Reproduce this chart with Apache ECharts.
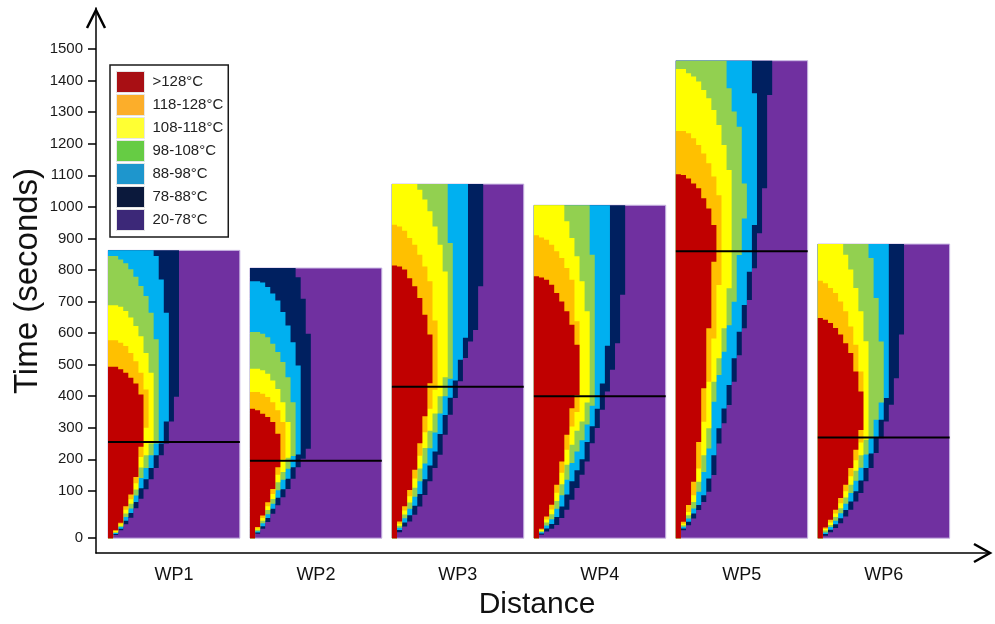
<!DOCTYPE html>
<html>
<head>
<meta charset="utf-8">
<script src="https://cdn.jsdelivr.net/npm/echarts@6/dist/echarts.min.js"></script>
<style>
  html, body { margin: 0; padding: 0; background: #ffffff; }
  #chart { width: 995px; height: 624px; }
</style>
</head>
<body>
<div id="chart"></div>
<script>
// Working-piece temperature maps: time (s) vs distance columns.
const panels = ['WP1', 'WP2', 'WP3', 'WP4', 'WP5', 'WP6'];
const panelEnd = [862, 806, 1072, 1005, 1463, 882];      // last recorded time per piece
const markTime = [255, 195, 430, 400, 859, 269];         // horizontal reference line per piece
const START = -50;                                       // first time row (axis shows it as 0)
const yTicks = [100, 200, 300, 400, 500, 600, 700, 800, 900, 1000, 1100, 1200, 1300, 1400, 1500];

// Temperature bands, coolest heated band first
const bandNames = ['78-88°C', '88-98°C', '98-108°C', '108-118°C', '118-128°C', '>128°C'];
const coldName = '20-78°C';

// For every band: time each distance column enters the band (heat) and leaves it (cool).
// null in a cool row = still in the band at the end of the record.
const wp1Heat = [
  [-50, -40, -25, -6, 15, 45, 75, 105, 137, 172, 213, 250, 320, 398],
  [-50, -37, -20, 5, 30, 65, 108, 137, 172, 213, 250, 320],
  [-50, -34, -15, 17, 44, 85, 141, 172, 213, 250],
  [-50, -31, -11, 28, 59, 104, 174, 213, 250],
  [-50, -28, -6, 40, 73, 124, 207, 300],
  [-50, -25, -1, 51, 88, 144, 240]
];
const wp1Cool = [
  [null, null, null, null, null, null, null, null, null, null, null, null, null, null],
  [null, null, null, null, null, null, null, null, null, 844, 770, 664],
  [844, 844, 833, 821, 802, 778, 749, 717, 664, 580],
  [688, 688, 683, 670, 649, 622, 590, 537, 474],
  [577, 577, 569, 559, 537, 511, 474, 421],
  [493, 493, 485, 474, 458, 440, 405]
];

const wp2Heat = [
  [-50, -36, -20, 1, 27, 54, 80, 106, 138, 175, 202, 233],
  [-50, -32, -12, 14, 43, 78, 105, 138, 175, 215],
  [-50, -28, -3, 26, 59, 102, 135, 170, 210],
  [-50, -23, 5, 39, 74, 127, 160, 205],
  [-50, -19, 14, 51, 90, 151, 200],
  [-50, -15, 22, 64, 106, 175]
];
const wp2Cool = [
  [null, null, null, null, null, null, null, null, null, 777, 709, 598],
  [764, 764, 760, 746, 725, 703, 667, 624, 571, 497],
  [603, 603, 598, 587, 566, 540, 508, 460, 381],
  [487, 487, 482, 471, 450, 423, 381, 318],
  [413, 413, 408, 397, 381, 355, 318],
  [360, 355, 344, 334, 318, 281]
];

const wp3Heat = [
  [-50, -31, -13, 3, 24, 50, 87, 130, 172, 214, 278, 341, 394, 447, 521, 573, 610, 748],
  [-50, -24, 0, 23, 53, 90, 137, 180, 225, 280, 340, 395, 450, 515, 585],
  [-50, -17, 13, 43, 81, 130, 187, 235, 285, 345, 400, 455],
  [-50, -11, 25, 63, 110, 171, 236, 290, 345, 400, 460],
  [-50, -4, 38, 83, 139, 211, 286, 360, 420],
  [-50, 3, 51, 103, 167, 251, 336, 441]
];
const wp3Cool = [
  [null, null, null, null, null, null, null, null, null, null, null, null, null, null, null, null, null, null],
  [null, null, null, null, null, null, null, null, null, null, null, null, null, null, null],
  [null, null, null, null, null, null, null, null, null, null, null, 885],
  [null, null, null, null, null, 1054, 1023, 986, 938, 880, 795],
  [943, 938, 924, 901, 880, 848, 811, 764, 640],
  [814, 811, 801, 774, 748, 711, 658, 595]
];

const wp4Heat = [
  [-50, -39, -29, -20, -8, 14, 40, 72, 109, 151, 193, 251, 299, 357, 415, 484, 568, 721],
  [-50, -35, -19, -5, 17, 50, 88, 130, 165, 200, 255, 305, 360, 440, 560],
  [-50, -31, -10, 10, 43, 86, 135, 188, 225, 260, 310, 370],
  [-50, -28, 0, 26, 68, 121, 183, 246, 290, 320, 380],
  [-50, -24, 9, 41, 94, 157, 230, 304, 350],
  [-50, -20, 19, 56, 119, 193, 278, 362, 404]
];
const wp4Cool = [
  [null, null, null, null, null, null, null, null, null, null, null, null, null, null, null, null, null, null],
  [null, null, null, null, null, null, null, null, null, null, null, null, null, null, null],
  [null, null, null, null, null, null, null, null, null, null, null, 848],
  [null, null, null, null, null, null, 954, 901, 843, 764, 669],
  [910, 903, 896, 880, 859, 838, 806, 769, 637],
  [780, 776, 769, 753, 727, 700, 669, 626, 563]
];

const wp5Heat = [
  [-50, -25, -9, 12, 39, 65, 97, 150, 250, 314, 372, 446, 530, 615, 705, 805, 916, 1059, 1354],
  [-50, -19, 2, 28, 55, 86, 139, 213, 298, 361, 435, 520, 604, 689, 794, 942],
  [-50, -14, 12, 44, 97, 160, 234, 382, 467, 541, 625, 699, 847, 963],
  [-50, -9, 23, 65, 129, 213, 298, 446, 520, 615, 742],
  [-50, -4, 33, 86, 171, 319, 446, 583, 752],
  [-50, 2, 55, 129, 255, 425, 615, 826]
];
const wp5Cool = [
  [null, null, null, null, null, null, null, null, null, null, null, null, null, null, null, null, null, null, null],
  [null, null, null, null, null, null, null, null, null, null, null, null, null, null, null, 1360],
  [null, null, null, null, null, null, null, null, null, null, 1376, 1302, 1254, 1074],
  [1437, 1437, 1423, 1413, 1397, 1370, 1344, 1307, 1259, 1196, 1117],
  [1240, 1240, 1233, 1217, 1196, 1169, 1138, 1096, 1037],
  [1103, 1101, 1090, 1074, 1059, 1027, 995, 942]
];

const wp6Heat = [
  [-50, -42, -31, -18, -3, 19, 40, 66, 93, 130, 172, 220, 267, 320, 373, 457, 595],
  [-50, -37, -23, -6, 13, 39, 66, 99, 133, 172, 218, 270, 325, 394],
  [-50, -32, -15, 5, 29, 59, 93, 132, 173, 215, 267, 325, 380],
  [-50, -26, -8, 17, 45, 79, 119, 164, 213, 262],
  [-50, -21, 0, 28, 61, 99, 146, 197, 253],
  [-50, -16, 8, 40, 77, 119, 172, 230, 293]
];
const wp6Cool = [
  [null, null, null, null, null, null, null, null, null, null, null, null, null, null, null, null, null],
  [null, null, null, null, null, null, null, null, null, null, null, null, null, null],
  [null, null, null, null, null, null, null, null, null, null, 838, 711, 573],
  [null, null, null, null, null, 848, 801, 743, 669, 574],
  [766, 758, 743, 727, 700, 669, 621, 563, 478],
  [648, 642, 632, 616, 595, 568, 537, 478, 415]
];

const HEAT = [wp1Heat, wp2Heat, wp3Heat, wp4Heat, wp5Heat, wp6Heat];
const COOL = [wp1Cool, wp2Cool, wp3Cool, wp4Cool, wp5Cool, wp6Cool];

// Layout of the distance axis, in column units
const PANEL_X0 = 2.37;
const PANEL_STEP = 28;
const PANEL_COLS = 26;
const X_MAX = 176.33;

const fillColors = ['#002060', '#00B0F0', '#92D050', '#FFFF00', '#FFC000', '#C00000'];
const coldColor = '#7030A0';
const legendColors = {
  '>128°C': '#A80F14',
  '118-128°C': '#FCAE2A',
  '108-118°C': '#FFFF33',
  '98-108°C': '#66CC44',
  '88-98°C': '#1E96CD',
  '78-88°C': '#0B193C',
  '20-78°C': '#3C2878'
};

const FONT = '"Liberation Sans", Arial, Helvetica, sans-serif';

function panelLeft(p) { return PANEL_X0 + p * PANEL_STEP; }

const panelData = panels.map((name, p) => [panelLeft(p), START]);

// Cold background of each piece
const coldSeries = {
  type: 'custom',
  name: coldName,
  silent: true,
  data: panelData,
  renderItem(params, api) {
    const p = params.dataIndex;
    const a = api.coord([panelLeft(p), START]);
    const b = api.coord([panelLeft(p) + PANEL_COLS, panelEnd[p]]);
    return {
      type: 'rect',
      shape: { x: a[0], y: b[1], width: b[0] - a[0], height: a[1] - b[1] },
      style: { fill: coldColor, stroke: '#C9B7E3', lineWidth: 1 }
    };
  }
};

// One staircase region per band and piece, built column by column
function bandSeries(k) {
  return {
    type: 'custom',
    name: bandNames[k],
    silent: true,
    data: panelData,
    renderItem(params, api) {
      const p = params.dataIndex;
      const heat = HEAT[p][k];
      const cool = COOL[p][k];
      const x0 = panelLeft(p);
      const pts = [];
      for (let c = 0; c < heat.length; c++) {
        pts.push(api.coord([x0 + c, heat[c]]));
        pts.push(api.coord([x0 + c + 1, heat[c]]));
      }
      for (let c = heat.length - 1; c >= 0; c--) {
        const top = cool[c] == null ? panelEnd[p] : cool[c];
        pts.push(api.coord([x0 + c + 1, top]));
        pts.push(api.coord([x0 + c, top]));
      }
      return { type: 'polygon', shape: { points: pts }, style: { fill: fillColors[k] } };
    }
  };
}

const markSeries = {
  type: 'custom',
  name: 'mark',
  silent: true,
  data: panelData,
  renderItem(params, api) {
    const p = params.dataIndex;
    const a = api.coord([panelLeft(p), markTime[p]]);
    const b = api.coord([panelLeft(p) + PANEL_COLS, markTime[p]]);
    return {
      type: 'line',
      shape: { x1: a[0], y1: a[1], x2: b[0], y2: b[1] },
      style: { stroke: '#000000', lineWidth: 2 }
    };
  }
};

const series = [coldSeries];
for (let k = 0; k < bandNames.length; k++) series.push(bandSeries(k));
series.push(markSeries);

const legendOrder = ['>128°C', '118-128°C', '108-118°C', '98-108°C', '88-98°C', '78-88°C', '20-78°C'];

const option = {
  animation: false,
  backgroundColor: '#ffffff',
  textStyle: { fontFamily: FONT },
  grid: { left: 96, right: 5, top: 8, bottom: 71, containLabel: false, outerBoundsMode: 'none' },
  legend: {
    orient: 'vertical',
    left: 110,
    top: 65,
    selectedMode: false,
    icon: 'rect',
    itemWidth: 28,
    itemHeight: 21,
    itemGap: 1,
    padding: [6, 5, 6, 6],
    borderColor: '#1a1a1a',
    borderWidth: 1.5,
    backgroundColor: '#ffffff',
    textStyle: { fontSize: 15, color: '#222222', fontFamily: FONT, padding: [0, 0, 0, 3] },
    data: legendOrder.map(n => ({
      name: n,
      itemStyle: { color: legendColors[n], borderColor: '#e6e6e6', borderWidth: 1 }
    }))
  },
  xAxis: {
    type: 'value',
    min: 0,
    max: X_MAX,
    axisLine: { show: true, onZero: false, lineStyle: { color: '#000000', width: 1.5 } },
    axisTick: { show: false },
    splitLine: { show: false },
    axisLabel: {
      customValues: panels.map((n, p) => panelLeft(p) + PANEL_COLS / 2),
      formatter: v => panels[Math.round((v - PANEL_X0 - PANEL_COLS / 2) / PANEL_STEP)],
      fontSize: 18,
      color: '#111111',
      margin: 13
    }
  },
  yAxis: {
    type: 'value',
    min: -97,
    max: 1630,
    axisLine: { show: true, onZero: false, lineStyle: { color: '#000000', width: 1.5 } },
    axisTick: {
      show: true,
      length: 8,
      customValues: [START].concat(yTicks),
      lineStyle: { color: '#000000', width: 1.5 }
    },
    axisLabel: {
      customValues: [START].concat(yTicks),
      formatter: v => (v === START ? '0' : String(v)),
      fontSize: 15,
      color: '#1a1a1a',
      margin: 13
    },
    splitLine: { show: false }
  },
  graphic: [
    {
      type: 'polyline',
      shape: { points: [[87, 28], [96, 10], [105, 28]] },
      style: { stroke: '#000000', lineWidth: 2.5, fill: null }
    },
    {
      type: 'polyline',
      shape: { points: [[974, 544], [990, 553], [974, 562]] },
      style: { stroke: '#000000', lineWidth: 2.5, fill: null }
    },
    {
      type: 'text',
      x: 28, y: 281,
      rotation: Math.PI / 2,
      style: {
        text: 'Time (seconds)', font: '33px ' + FONT, fill: '#111111',
        textAlign: 'center', textVerticalAlign: 'middle'
      }
    },
    {
      type: 'text',
      x: 537, y: 605,
      style: {
        text: 'Distance', font: '30px ' + FONT, fill: '#111111',
        textAlign: 'center', textVerticalAlign: 'middle'
      }
    }
  ],
  series: series
};

const chart = echarts.init(document.getElementById('chart'));
chart.setOption(option);
</script>
</body>
</html>
